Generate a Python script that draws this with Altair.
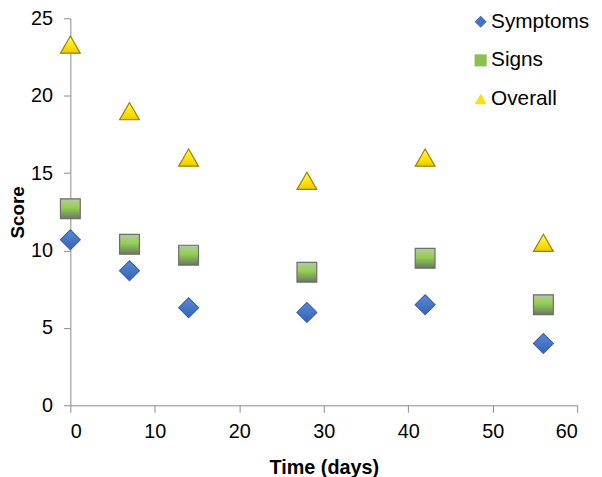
import altair as alt
import pandas as pd

time_days = [0, 7, 14, 28, 42, 56]
symptoms = [10.7, 8.7, 6.3, 6.0, 6.5, 4.0]
signs = [12.7, 10.4, 9.7, 8.6, 9.5, 6.5]
overall = [23.3, 19.0, 16.0, 14.5, 16.0, 10.5]
series_names = ["Symptoms", "Signs", "Overall"]
x_ticks = [0, 10, 20, 30, 40, 50, 60]
y_ticks = [0, 5, 10, 15, 20, 25]

rows = []
for name, vals in zip(series_names, [symptoms, signs, overall]):
    for t, v in zip(time_days, vals):
        rows.append({"Time": t, "Score": v, "Series": name})
df = pd.DataFrame(rows)

FONT = "Liberation Sans"
colors = ["#4472C4", "#8cc152", "#ffe000"]
shapes = ["diamond", "square", "triangle-up"]

x = alt.X("Time:Q", scale=alt.Scale(domain=[0, 60], nice=False, zero=False),
          axis=alt.Axis(values=x_ticks, title="Time (days)", labelAngle=0,
                        tickSize=7, labelPadding=9, titlePadding=17))
y = alt.Y("Score:Q", scale=alt.Scale(domain=[0, 25], nice=False),
          axis=alt.Axis(values=y_ticks, title="Score", tickSize=7,
                        labelPadding=11, titlePadding=3, titleFontSize=19))

leg = alt.Legend(title=None, orient="none", legendX=404, legendY=-7,
                 labelFontSize=21, labelFont=FONT, labelColor="black",
                 symbolSize=150, labelOffset=0, rowPadding=17, padding=0,
                 symbolStrokeWidth=0)

base = alt.Chart(df).mark_point(filled=True, size=400, opacity=1, strokeWidth=0).encode(
    x=x, y=y,
    color=alt.Color("Series:N", scale=alt.Scale(domain=series_names, range=colors), legend=leg),
    shape=alt.Shape("Series:N", scale=alt.Scale(domain=series_names, range=shapes), legend=leg),
)

def grad(stops):
    return alt.Gradient(gradient="linear", x1=0, x2=0, y1=0, y2=1,
                        stops=[alt.GradientStop(offset=o, color=c) for o, c in stops])

styles = {
    "Symptoms": ("diamond", [(0, "#5b8ad8"), (1, "#3563b5")], "#3a64b0"),
    "Signs": ("square", [(0, "#b8c8a8"), (0.45, "#92d050"), (1, "#6b7862")], "#6d6d6d"),
    "Overall": ("triangle-up", [(0, "#fff38a"), (0.5, "#ffe60a"), (1, "#f0c800")], "#9a8400"),
}

overlays = []
for name in series_names:
    shp, stops, stroke = styles[name]
    overlays.append(
        alt.Chart(df).transform_filter(alt.datum.Series == name).mark_point(
            shape=shp, size=400, opacity=1, fill=grad(stops), fillOpacity=1,
            stroke=stroke, strokeWidth=1.2
        ).encode(x=x, y=y)
    )

chart = alt.layer(base, *overlays).properties(
    width=512, height=391,
    autosize="none",
    padding={"left": 63, "top": 8, "right": 17, "bottom": 70},
).configure_view(stroke=None).configure_axis(
    grid=False, domainColor="#8c8c8c", tickColor="#8c8c8c",
    labelFont=FONT, labelFontSize=20, labelColor="black",
    titleFont=FONT, titleFontSize=20, titleFontWeight="bold", titleColor="black",
)

chart.save("out.html", embed_options={"renderer": "svg", "actions": False})
